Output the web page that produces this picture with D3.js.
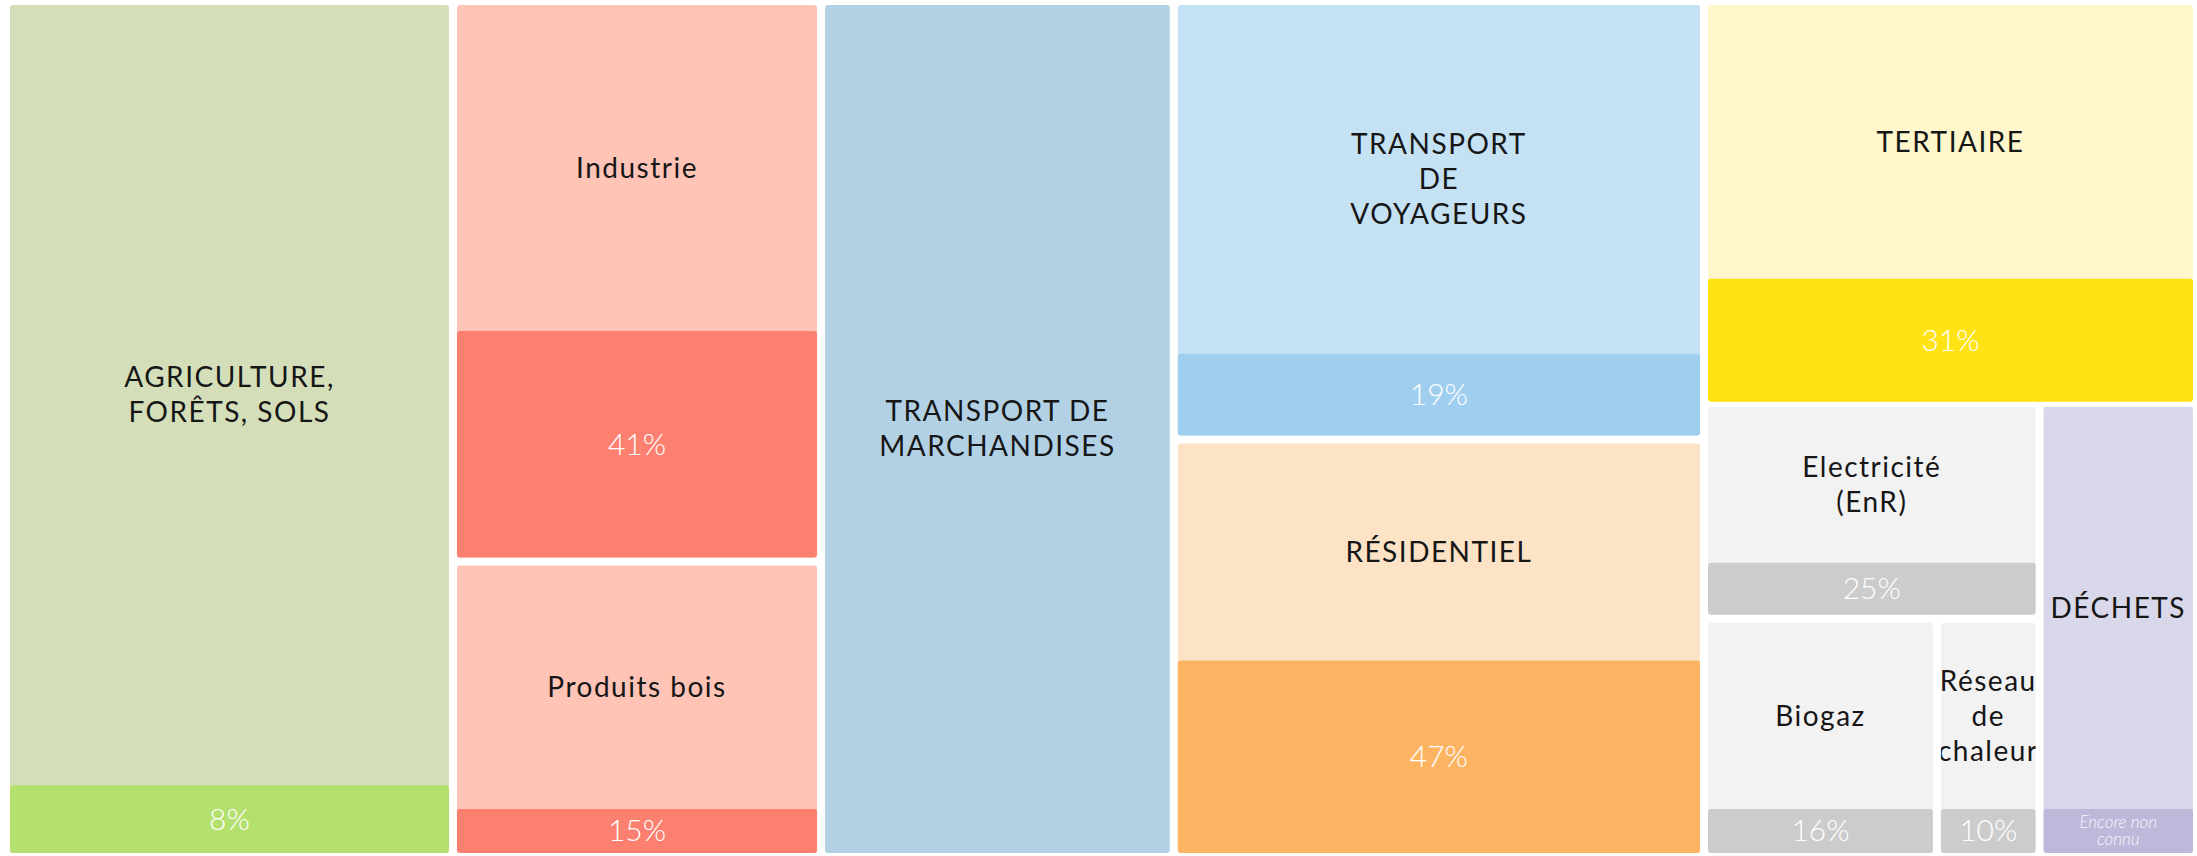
<!DOCTYPE html>
<html lang="fr">
<head>
<meta charset="utf-8">
<script src="https://cdn.jsdelivr.net/npm/d3@7"></script>
<style>
	body { margin: 0; background: #fff; }
	svg { display: block; }
	text { font-family: Lato, "Noto Sans", sans-serif; }
</style>
</head>
<body>
<svg id="chart"></svg>
<script>
// Sectors, in reading order
const sectors = ["agriculture", "industrie", "bois", "marchandises", "voyageurs",
	"residentiel", "tertiaire", "electricite", "biogaz", "reseau", "dechets"]

const labels = [
	["AGRICULTURE,", "FORÊTS, SOLS"],
	["Industrie"],
	["Produits bois"],
	["TRANSPORT DE", "MARCHANDISES"],
	["TRANSPORT", "DE", "VOYAGEURS"],
	["RÉSIDENTIEL"],
	["TERTIAIRE"],
	["Electricité", "(EnR)"],
	["Biogaz"],
	["Réseau", "de", "chaleur"],
	["DÉCHETS"],
]

// Tile weights (areas)
const weights = [204, 110, 58, 161, 124, 118, 106, 38.5, 29.5, 13, 38]

// Share achieved, in %; null = no bar or not known yet
const shares = [8, 41, 15, null, 19, 47, 31, 25, 16, 10, null]

// Sectors whose share is not known yet
const unknown = ["dechets"]
const unknownNote = ["Encore non", "connu"]

// How the tiles are nested: columns, then rows, then columns...
const grouping = [
	["agriculture"],
	["industrie", "bois"],
	["marchandises"],
	["voyageurs", "residentiel"],
	["tertiaire", [["electricite", ["biogaz", "reseau"]], "dechets"]],
]

const width = 2197
const height = 856
const margin = { top: 5, right: 4, bottom: 3, left: 10 }
const minBar = 44
const lineHeight = 35

const tileColour = d3.scaleOrdinal()
	.domain(sectors)
	.range(["#d4dfba", "#ffc4b6", "#ffc4b6", "#b3d1e5", "#c5e2f4",
		"#fde3c6", "#fff7cb", "#f2f2f2", "#f2f2f2", "#f2f2f2", "#d9d8ea"])

const barColour = d3.scaleOrdinal()
	.domain(sectors)
	.range(["#b4e06e", "#fc8070", "#fc8070", "#b3d1e5", "#a0ceef",
		"#fdb462", "#ffe314", "#cccccc", "#cccccc", "#cccccc", "#bdb9da"])

function build(item) {
	if (typeof item === "string") {
		let i = sectors.indexOf(item)
		return { id: item, label: labels[i], value: weights[i], share: shares[i] }
	}
	return { children: item.map(build) }
}

const root = d3.hierarchy(build(grouping))
	.sum(d => d.value || 0)

// Gaps are a bit tighter in the energy column
const inEnergy = d => d.depth > 0 && d.leaves().some(l => l.data.id === "tertiaire")

d3.treemap()
	.tile(d3.treemapSliceDice)
	.size([width - margin.left - margin.right, height - margin.top - margin.bottom])
	.paddingInner(d => inEnergy(d) ? 5 : 8)
	(root)

const svg = d3.select("#chart")
	.attr("width", width)
	.attr("height", height)

const g = svg.append("g")
	.attr("transform", `translate(${margin.left}, ${margin.top})`)

function barHeight(d) {
	let h = d.y1 - d.y0
	if (d.data.share != null) return Math.max(d.data.share / 100 * h, minBar)
	if (unknown.includes(d.data.id)) return minBar
	return 0
}

const leaves = g.selectAll("g.tile")
	.data(root.leaves())
	.join("g")
	.attr("class", "tile")
	.attr("transform", d => `translate(${d.x0}, ${d.y0})`)

leaves.append("clipPath")
	.attr("id", d => `clip_${d.data.id}`)
	.append("rect")
	.attr("width", d => d.x1 - d.x0)
	.attr("height", d => d.y1 - d.y0)

leaves.append("rect")
	.attr("class", "body")
	.attr("width", d => d.x1 - d.x0)
	.attr("height", d => d.y1 - d.y0)
	.attr("rx", 3)
	.attr("fill", d => tileColour(d.data.id))

leaves.filter(d => barHeight(d) > 0)
	.append("rect")
	.attr("class", "bar")
	.attr("y", d => d.y1 - d.y0 - barHeight(d))
	.attr("width", d => d.x1 - d.x0)
	.attr("height", barHeight)
	.attr("rx", 3)
	.attr("fill", d => barColour(d.data.id))

// Sector label, centred in the part above the bar
leaves.append("text")
	.attr("clip-path", d => `url(#clip_${d.data.id})`)
	.attr("text-anchor", "middle")
	.attr("font-size", 28)
	.attr("letter-spacing", 1.5)
	.attr("fill", "#161616")
	.each(function(d) {
		let cx = (d.x1 - d.x0) / 2
		let cy = (d.y1 - d.y0 - barHeight(d)) / 2
		let lines = d.data.label
		d3.select(this).selectAll("tspan")
			.data(lines)
			.join("tspan")
			.attr("x", cx)
			.attr("y", (_, i) => cy + (i - (lines.length - 1) / 2) * lineHeight)
			.attr("dy", "0.35em")
			.text(l => l)
	})

// Share value inside the bar
leaves.filter(d => d.data.share != null)
	.append("text")
	.attr("text-anchor", "middle")
	.attr("font-size", 30)
	.attr("font-weight", 300)
	.attr("fill", "#fff")
	.attr("x", d => (d.x1 - d.x0) / 2)
	.attr("y", d => d.y1 - d.y0 - barHeight(d) / 2)
	.attr("dy", "0.35em")
	.text(d => `${d.data.share}%`)

leaves.filter(d => unknown.includes(d.data.id))
	.append("text")
	.attr("text-anchor", "middle")
	.attr("font-size", 17)
	.attr("font-style", "italic")
	.attr("font-weight", 300)
	.attr("fill", "#fff")
	.attr("fill-opacity", 0.9)
	.each(function(d) {
		let cx = (d.x1 - d.x0) / 2
		let cy = d.y1 - d.y0 - barHeight(d) / 2
		d3.select(this).selectAll("tspan")
			.data(unknownNote)
			.join("tspan")
			.attr("x", cx)
			.attr("y", (_, i) => cy + (i - (unknownNote.length - 1) / 2) * 17)
			.attr("dy", "0.35em")
			.text(l => l)
	})
</script>
</body>
</html>
